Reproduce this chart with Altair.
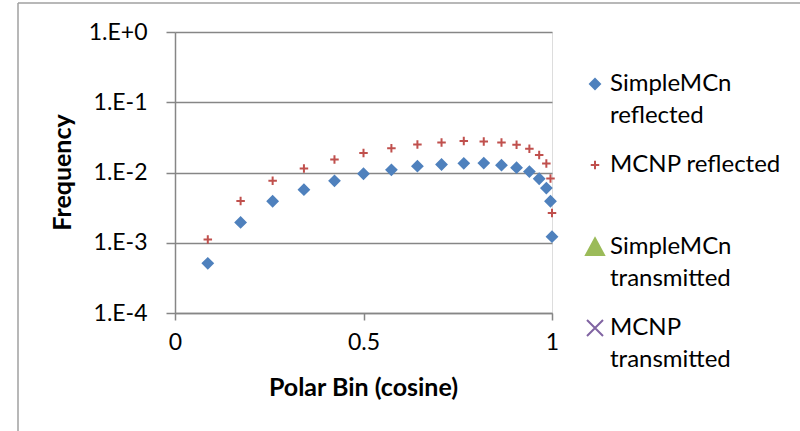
import altair as alt
import pandas as pd

# Polar bin positions (cosine)
cosine = [0.087, 0.174, 0.259, 0.342, 0.423, 0.500, 0.574, 0.643, 0.707,
          0.766, 0.819, 0.866, 0.906, 0.940, 0.966, 0.985, 0.996, 1.000]

simplemcn_reflected = [5.1e-4, 1.95e-3, 3.9e-3, 5.7e-3, 7.6e-3, 9.6e-3, 1.09e-2,
                       1.23e-2, 1.30e-2, 1.35e-2, 1.36e-2, 1.27e-2, 1.17e-2,
                       1.03e-2, 8.15e-3, 6.0e-3, 3.9e-3, 1.22e-3]

mcnp_reflected = [1.11e-3, 3.93e-3, 7.6e-3, 1.14e-2, 1.53e-2, 1.89e-2, 2.22e-2,
                  2.51e-2, 2.68e-2, 2.80e-2, 2.77e-2, 2.67e-2, 2.48e-2, 2.17e-2,
                  1.78e-2, 1.34e-2, 8.2e-3, 2.65e-3]

series_names = ["SimpleMCn reflected", "MCNP reflected",
                "SimpleMCn transmitted", "MCNP transmitted"]
series_colors = ["#4F81BD", "#C0504D", "#9BBB59", "#8064A2"]
series_shapes = ["diamond",
                 "M-0.85,0H0.85M0,-0.85V0.85",
                 "M0,-1.75L1.8,1.6L-1.8,1.6Z",
                 "M-1.6,-1.6L1.6,1.6M1.6,-1.6L-1.6,1.6"]

y_ticks = [1e-4, 1e-3, 1e-2, 1e-1, 1.0]
x_ticks = [0, 0.5, 1]

rows = []
for x, v in zip(cosine, simplemcn_reflected):
    rows.append({"cosine": x, "freq": v, "series": series_names[0]})
for x, v in zip(cosine, mcnp_reflected):
    rows.append({"cosine": x, "freq": v, "series": series_names[1]})
df = pd.DataFrame(rows)

FONT = "Lato"
GRAY = "#868686"

legend = alt.Legend(
    title=None, orient="none", legendX=408, legendY=40, padding=0,
    labelFont=FONT, labelFontSize=24, labelColor="#000000",
    labelExpr="datum.label == 'MCNP reflected' ? ['MCNP reflected', ''] : split(datum.label, ' ')",
    labelOffset=3, rowPadding=25, labelLimit=300, symbolStrokeWidth=2,
    symbolSize=100,
)

points = alt.Chart(df).mark_point(filled=False, strokeWidth=2, opacity=1, size=100).encode(
    x=alt.X("cosine:Q", scale=alt.Scale(domain=[0, 1], nice=False, zero=False),
            axis=alt.Axis(values=x_ticks, format="~g", title="Polar Bin (cosine)",
                          grid=False, tickSize=7, tickColor=GRAY, domainColor=GRAY,
                          domainWidth=1.5, tickWidth=1.5,
                          labelFont=FONT, labelFontSize=23, labelColor="#000000",
                          labelPadding=11, labelFlush=False,
                          titleFont=FONT, titleFontSize=25, titleFontWeight="bold",
                          titleColor="#000000", titleX=188, titleY=74,
                          titleBaseline="middle")),
    y=alt.Y("freq:Q", scale=alt.Scale(type="log", domain=[1e-4, 1], nice=False),
            axis=alt.Axis(values=y_ticks,
                          labelExpr="'1.E' + (datum.value >= 1 ? '+0' : toString(round(log(datum.value) / LN10)))",
                          title="Frequency", grid=True, gridColor=GRAY, gridWidth=1.5,
                          tickSize=9, tickColor=GRAY, tickWidth=1.5,
                          domainColor=GRAY, domainWidth=1.5,
                          labelFont=FONT, labelFontSize=23, labelColor="#000000",
                          labelPadding=19, labelFlush=False,
                          titleFont=FONT, titleFontSize=25, titleFontWeight="bold",
                          titleColor="#000000", titleX=-113, titleY=140,
                          titleBaseline="middle", titleAngle=270)),
    fill=alt.Fill("series:N", scale=alt.Scale(domain=series_names, range=series_colors), legend=legend),
    stroke=alt.Stroke("series:N", scale=alt.Scale(domain=series_names, range=series_colors), legend=legend),
    shape=alt.Shape("series:N", scale=alt.Scale(domain=series_names, range=series_shapes), legend=legend),
)

frame_left = alt.Chart(alt.Data(values=[{}])).mark_rule(color="#A0A0A0", strokeWidth=1.5).encode(
    x=alt.value(-157), y=alt.value(-29), y2=alt.value(420))
frame_top = alt.Chart(alt.Data(values=[{}])).mark_rule(color="#A0A0A0", strokeWidth=1.5).encode(
    x=alt.value(-157), x2=alt.value(625), y=alt.value(-29))

chart = alt.layer(points, frame_left, frame_top).properties(
    width=377, height=281,
    padding={"left": 175, "top": 32, "right": 248, "bottom": 118},
    autosize=alt.AutoSizeParams(type="none"),
    background="white",
).configure_view(stroke=None).configure(style={"guide-label": {"lineHeight": 32}})

chart.save("out.html", embed_options={"renderer": "svg", "actions": False})
